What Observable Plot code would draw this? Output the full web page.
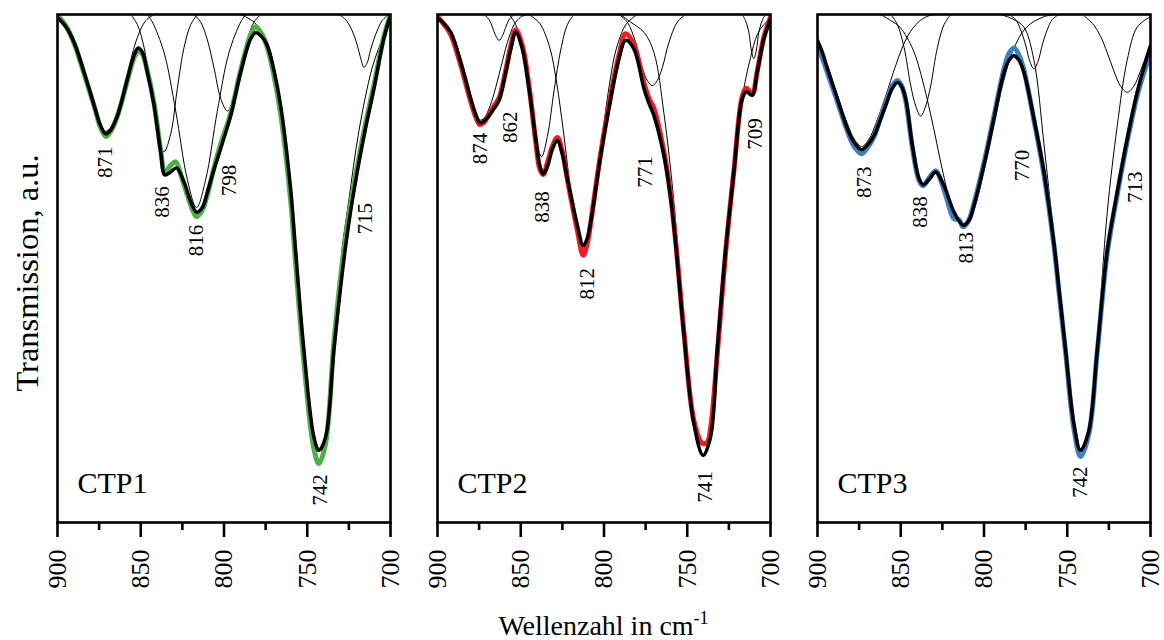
<!DOCTYPE html>
<html><head><meta charset="utf-8">
<script src="https://cdn.jsdelivr.net/npm/d3@7"></script>
<script src="https://cdn.jsdelivr.net/npm/@observablehq/plot@0.6"></script>
<style>
body{margin:0;background:#fff;}
#chart{position:relative;width:1164px;height:640px;font-family:"Liberation Serif","Times New Roman",serif;color:#000;}
#chart svg text{font-family:"Liberation Serif","Times New Roman",serif !important;}
.panel{position:absolute;top:0;}
#xtitle{position:absolute;left:603.5px;top:612px;transform:translateX(-50%);font-size:28px;line-height:1;white-space:nowrap;}
#xtitle sup{font-size:18px;line-height:0;vertical-align:0;position:relative;top:-11px;}
#ytitle{position:absolute;left:27px;top:273px;transform:translate(-50%,-50%) rotate(-90deg);font-size:32.5px;line-height:1;white-space:nowrap;}
</style></head><body><div id="chart"></div>
<script>
// ---- x axis ticks ----
const majorTicks = [900, 850, 800, 750, 700];
const minorTicks = [875, 825, 775, 725];
const panelNames = ["CTP1", "CTP2", "CTP3"];
const panelColors = ["#4daf4a", "#ee1c25", "#3d80c0"];

// ---- CTP1 ----
const ctp1Fit = [[900,99.4],[895,97.6],[890,94.5],[884,88.6],[878,82.1],[874,78.0],[871,76.5],[868,77.3],[864,80.1],[858,87.3],[854,92.0],[851.5,93.4],[849,92.5],[846,88.6],[842,82.1],[838,72.9],[835.5,68.4],[832,69.0],[828.5,69.8],[824,67.0],[820,63.2],[816.5,61.1],[813,62.0],[810,65.0],[806,69.5],[802,73.6],[796,80.1],[790,88.6],[784,95.2],[781,96.4],[777,95.5],[774,93.9],[770,89.0],[766,82.1],[760,65.7],[757,53.5],[752,33.9],[746,16.8],[743,14.2],[739,16.8],[734,33.9],[729,49.0],[725,59.0],[720,69.0],[715,77.6],[710,85.3],[704,95.3],[700,99.8]];
const ctp1Meas = [[900,99.8],[895,97.8],[890,94.3],[884,88.3],[878,82.0],[874,77.6],[871,76.0],[868,77.0],[864,80.0],[858,87.0],[854,91.5],[851.5,92.8],[849,92.2],[846,88.8],[842,82.5],[838,73.2],[835.5,69.0],[832,70.3],[829,71.0],[826,68.5],[824,66.5],[820,62.5],[816.5,60.2],[813,61.5],[810,64.5],[806,69.8],[802,74.5],[796,80.5],[790,89.0],[784,96.0],[781,97.6],[777,96.0],[774,93.5],[770,88.0],[766,80.5],[760,63.5],[757,51.0],[752,31.5],[746,14.5],[743,11.6],[739,15.5],[734,35.5],[729,51.0],[725,60.5],[720,70.0],[715,78.5],[710,86.0],[704,95.6],[700,100]];
const ctp1Band871 = [[900,99.6],[895,97.8],[890,94.7],[884,88.8],[878,82.3],[874,78.2],[871,77.0],[868,77.8],[864,81.0],[858,88.5],[852,95.5],[847,98.8],[842,100]];
const ctp1Band836 = [[856,100],[852,98],[848,93.5],[844,85.5],[840,76.5],[836,73],[832,76.5],[828,85.5],[824,93.5],[820,98],[816,100]];
const ctp1Band816 = [[846,100],[843,98.5],[836,92.5],[829,81],[822,67.5],[816.5,62],[811,67.5],[804,81],[797,92.5],[790,98.5],[787,100]];
const ctp1Band798 = [[818,100],[814,98.5],[810,95],[806,89.5],[802,83.5],[798,81],[794,83.5],[790,89.5],[786,95],[782,98.5],[778,100]];
const ctp1Band742 = [[790,100],[782,98.5],[774,94.5],[766,82.5],[760,66.5],[757,54],[752,34],[746,17],[742.5,14.5],[739,17],[734,36],[729,54],[725,63.5],[719,77],[711,89.5],[704,96],[700,99.3]];
const ctp1Band715 = [[731,100],[727,99],[723,96.8],[720,94],[718,91.5],[716,89.6],[714,90.5],[712,93],[709,96],[705,98.8],[701,100]];
const ctp1Labels = [["871",871.2,70.9],["836",837.1,63.1],["816",816.5,55.5],["798",797.1,67.3],["742",742.0,6.4],["715",715.0,59.8]];

// ---- CTP2 ----
const ctp2Fit = [[900,99.3],[896,98.2],[892,96.5],[886,90.6],[880,83.4],[877,80.3],[874.5,78.7],[872,79.0],[869,80.1],[866,81.5],[863,83.1],[859,88.6],[856,93.2],[853,96.5],[849,93.2],[845,85.4],[841,75.5],[838.5,70.2],[836.5,68.6],[834,70.0],[831,73.5],[828,75.2],[825,72.5],[822,67.7],[816,58.5],[812.5,54.5],[810,56.0],[808,59.1],[802,72.2],[796,83.4],[791,91.3],[787,94.9],[782,93.2],[776,85.4],[773,82.5],[770,80.1],[764,72.2],[760,64.0],[757,55.0],[752,37.1],[746,19.4],[740.5,13.2],[736,16.8],[732,33.9],[727,53.5],[722,69.0],[717,83.4],[714.5,84.8],[711,84.1],[708,88.6],[704,95.2],[700,99.2]];
const ctp2Meas = [[900,99.6],[896,98.0],[892,96.0],[886,90.0],[880,82.8],[877,79.8],[874.5,78.3],[872,78.8],[869,80.3],[866,82.0],[863,83.6],[859,89.0],[856,93.8],[853,97.0],[849,93.8],[845,85.8],[841,75.0],[838.5,69.5],[836.5,68.5],[834,70.8],[831,74.0],[828,75.8],[825,73.0],[822,67.5],[816,57.5],[812.5,52.6],[810,55.0],[808,59.0],[802,72.6],[796,84.0],[791,92.0],[787,96.2],[782,94.0],[776,86.5],[773,83.5],[770,81.5],[764,73.0],[760,64.5],[757,55.5],[752,37.5],[746,20.0],[741,15.6],[738,15.8],[736,18.5],[732,33.0],[727,53.0],[722,69.2],[717,83.8],[714.5,85.5],[711,84.3],[708,88.8],[704,95.5],[700,99.5]];
const ctp2Band874 = [[900,99.3],[896,98.2],[892,96.5],[886,90.8],[880,83.8],[877,80.5],[874.5,79.2],[872,79.6],[869,81.5],[866,84.5],[862,89.5],[858,94.5],[854,98],[850,99.5],[846,100]];
const ctp2Band862 = [[872,100],[869,99],[867,97.5],[865,95.8],[863,94.9],[861,95.8],[859,97.5],[857,99],[854,100]];
const ctp2Band838 = [[857,100],[853,98],[849,93],[845,85],[841,76],[837.5,72],[834,76],[830,85],[826,93],[822,98],[818,100]];
const ctp2Band812 = [[845,100],[838.5,98.2],[832.5,93.4],[828.5,86.7],[824.5,77.3],[820.5,66.6],[816.5,57.9],[812.5,54.5],[808.5,57.9],[804.5,66.6],[800.5,77.3],[796.5,86.7],[792.5,93.4],[786.5,98.2],[780,100]];
const ctp2Band771 = [[791,100],[786,98.5],[781,94.5],[777,89.5],[774,87],[771,86],[768,87],[765,89.5],[761,94.5],[756,98.5],[751,100]];
const ctp2Band741 = [[790,100],[784,98.5],[776,96.5],[770,92.5],[764,80.5],[758,63],[752,37.5],[746,19.5],[740.5,13.3],[736,16.8],[732,33.9],[727,53.5],[722,69],[717,83.5],[712,91.5],[708,96],[704,98],[700,99.3]];
const ctp2Band709 = [[717,100],[715,98.8],[713,96.5],[711.5,93],[710,91.3],[708.5,93],[707,96.5],[705,98.8],[703,100]];
const ctp2Labels = [["874",874.6,73.6],["862",856.2,77.8],["838",837.1,62.1],["812",810.1,47.0],["771",775.1,69.0],["741",739.0,7.0],["709",709.0,76.5]];

// ---- CTP3 ----
const ctp3Fit = [[900,94.9],[897,92.5],[894,89.3],[888,83.4],[882,77.5],[878,74.8],[873.5,73.4],[870,74.3],[866,76.2],[862,79.5],[859,82.1],[855,85.5],[852,86.6],[849.5,85.8],[847,83.4],[843,74.2],[839,67.7],[836.5,66.5],[833,67.5],[829,69.0],[824,66.3],[818,61.1],[812.5,58.5],[809,59.5],[806,62.4],[800,70.3],[794,79.5],[788,88.6],[785,91.0],[782,91.9],[779,91.0],[776,88.6],[770,79.5],[764,69.0],[758,55.0],[755,46.0],[751,33.9],[746,19.4],[742,14.2],[737,18.1],[732,33.9],[726,53.5],[720,65.0],[714,75.5],[708,84.7],[704,89.5],[700,93.9]];
const ctp3Meas = [[900,93.6],[897,91.3],[894,88.5],[888,82.8],[882,77.0],[878,74.0],[873.5,72.6],[870,73.8],[866,76.0],[862,79.8],[859,82.6],[855,86.0],[852,87.0],[849.5,86.0],[847,83.0],[843,73.8],[839,67.3],[836.5,66.3],[833,67.8],[829,69.2],[824,65.5],[818,59.8],[815,59.6],[812.5,58.2],[809,59.6],[806,62.8],[800,70.8],[794,80.0],[788,89.3],[785,92.3],[782,93.4],[779,92.0],[776,89.0],[770,79.2],[764,68.5],[758,54.5],[755,45.5],[751,33.5],[746,18.5],[742,13.0],[737,17.5],[732,33.5],[726,53.0],[720,64.5],[714,75.0],[708,84.0],[704,88.5],[700,92.5]];
const ctp3Band873 = [[900,95],[894,90],[888,84],[882,78.5],[878,75.5],[873.5,74],[869,75.5],[865,78.5],[859,84],[853,90],[847,95],[841,98],[835,99.5],[830,100]];
const ctp3Band838 = [[856,100],[852,98],[848,93.5],[844,86],[841,82],[838,80],[835,82],[832,86],[828,93.5],[824,98],[820,100]];
const ctp3Band813 = [[862,100],[856,98.8],[850.5,97.5],[842.5,93],[836.5,86.5],[830.5,78],[824.5,68.7],[818.5,61.3],[812.5,58.5],[806.5,61.3],[800.5,68.7],[794.5,78],[788.5,86.5],[782.5,93],[774.5,97.5],[764.5,99.5],[758,100]];
const ctp3Band770 = [[785,100],[781,99],[778,97],[775,94],[772.5,90.8],[770,89.3],[767.5,90.8],[765,94],[762,97],[759,99],[755,100]];
const ctp3Band742 = [[790,100],[782,99],[776,97.5],[770,91],[764,74.5],[758,56],[752,37],[747,21],[742,14.5],[737,18.5],[732,35],[726,61],[720,78],[714,91],[708,97.5],[700,99.6]];
const ctp3Band713 = [[740,99.8],[734,97.9],[730,95.7],[726,92.5],[722,88.9],[718,85.9],[714,84.7],[710,85.9],[706,88.9],[702,92.5],[700,94.3]];
const ctp3Labels = [["873",872.2,67.0],["838",838.1,61.1],["813",810.5,54.1],["770",777.0,70.3],["742",742.0,7.9],["713",709.0,66.0]];

// ---- build ----
const SERIF = '"Liberation Serif", "Times New Roman", serif';
const toRows = (arr, key) => arr.map(([wn, v]) => ({wn, v, key}));
const panels = [
  {fit: ctp1Fit, meas: ctp1Meas, bands: {b871: ctp1Band871, b836: ctp1Band836, b816: ctp1Band816, b798: ctp1Band798, b742: ctp1Band742, b715: ctp1Band715}, labels: ctp1Labels},
  {fit: ctp2Fit, meas: ctp2Meas, bands: {b874: ctp2Band874, b862: ctp2Band862, b838: ctp2Band838, b812: ctp2Band812, b771: ctp2Band771, b741: ctp2Band741, b709: ctp2Band709}, labels: ctp2Labels},
  {fit: ctp3Fit, meas: ctp3Meas, bands: {b873: ctp3Band873, b838: ctp3Band838, b813: ctp3Band813, b770: ctp3Band770, b742: ctp3Band742, b713: ctp3Band713}, labels: ctp3Labels}
];
const frameLeft = [57, 437, 817];
const mL = 4, mR = 4;
const chart = document.getElementById("chart");

panels.forEach((p, i) => {
  const bandRows = Object.entries(p.bands).flatMap(([k, arr]) => toRows(arr, k));
  const labelRows = p.labels.map(([t, wn, v]) => ({t, wn, v}));
  const svg = Plot.plot({
    width: 333 + mL + mR,
    height: 600,
    marginLeft: mL, marginRight: mR, marginTop: 14, marginBottom: 78,
    x: {domain: [900, 700], label: null},
    y: {domain: [0, 100], axis: null},
    style: {fontFamily: SERIF, background: "transparent", overflow: "visible", color: "black"},
    marks: [
      Plot.line(bandRows, {x: "wn", y: "v", z: "key", stroke: "black", strokeWidth: 1, curve: "catmull-rom", clip: true}),
      Plot.line(toRows(p.meas, "m"), {x: "wn", y: "v", stroke: panelColors[i], strokeWidth: 5, curve: "catmull-rom", strokeLinejoin: "round", clip: true}),
      Plot.line(toRows(p.fit, "f"), {x: "wn", y: "v", stroke: "black", strokeWidth: 3.5, curve: "catmull-rom", strokeLinejoin: "round", clip: true}),
      Plot.text(labelRows, {x: "wn", y: "v", text: "t", rotate: -90, fontSize: 21, fontFamily: SERIF, fill: "black"}),
      Plot.text([panelNames[i]], {frameAnchor: "bottom-left", dx: 20, dy: -30, textAnchor: "start", fontSize: 30, fontFamily: SERIF, fill: "black"}),
      Plot.frame({stroke: "black", strokeWidth: 2.6}),
      Plot.axisX({ticks: majorTicks, tickSize: 15, tickRotate: -90, tickPadding: 12, fontSize: 26, fontFamily: SERIF, strokeWidth: 2.6, tickFormat: d => String(d)}),
      Plot.axisX({ticks: minorTicks, tickSize: 8, strokeWidth: 2.6, tickFormat: () => ""})
    ]
  });
  svg.classList.add("panel");
  svg.style.left = (frameLeft[i] - mL) + "px";
  chart.appendChild(svg);
});

const xt = document.createElement("div");
xt.id = "xtitle";
xt.innerHTML = "Wellenzahl in cm<sup>-1</sup>";
chart.appendChild(xt);
const yt = document.createElement("div");
yt.id = "ytitle";
yt.textContent = "Transmission, a.u.";
chart.appendChild(yt);
</script>
</body></html>
